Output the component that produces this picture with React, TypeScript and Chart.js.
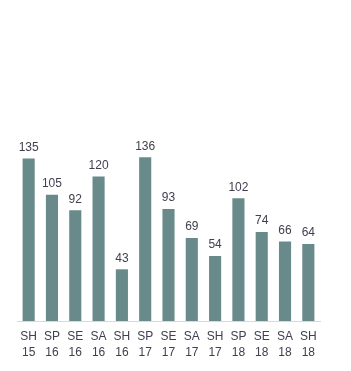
import React, { useEffect, useRef } from "react";
import { Chart, registerables } from "chart.js";

Chart.register(...registerables);

const seasons = ["SH", "SP", "SE", "SA", "SH", "SP", "SE", "SA", "SH", "SP", "SE", "SA", "SH"];
const years = ["15", "16", "16", "16", "16", "17", "17", "17", "17", "18", "18", "18", "18"];
const values = [135, 105, 92, 120, 43, 136, 93, 69, 54, 102, 74, 66, 64];

const TEXT = "#404050";
const FONT = "'Liberation Sans', Arial, sans-serif";

const valueLabels = {
  id: "valueLabels",
  afterDatasetsDraw(chart: any) {
    const ctx = chart.ctx;
    const meta = chart.getDatasetMeta(0);
    ctx.save();
    ctx.font = `12px ${FONT}`;
    ctx.fillStyle = TEXT;
    ctx.textAlign = "center";
    ctx.textBaseline = "bottom";
    meta.data.forEach((bar: any, i: number) => {
      ctx.fillText(String(values[i]), bar.x, bar.y - 5);
    });
    ctx.restore();
  },
};

export default function App() {
  const ref = useRef<HTMLCanvasElement>(null);
  useEffect(() => {
    if (!ref.current) return;
    const chart = new Chart(ref.current, {
      type: "bar",
      data: {
        labels: seasons.map((s, i) => [s, years[i]]),
        datasets: [
          {
            data: values,
            backgroundColor: "#698a8a",
            barPercentage: 0.52,
            categoryPercentage: 1,
          },
        ],
      },
      options: {
        animation: false,
        responsive: false,
        layout: { padding: { left: 9, right: 23, top: 0, bottom: 2 } },
        plugins: { legend: { display: false }, tooltip: { enabled: false } },
        scales: {
          y: { display: false, min: 0, max: 260 },
          x: {
            grid: { display: false },
            border: { display: true, color: "#d9d9d9" },
            ticks: {
              color: TEXT,
              font: { size: 12, family: FONT, lineHeight: 1.33 },
              maxRotation: 0,
              autoSkip: false,
              padding: 0,
            },
          },
        },
      },
      plugins: [valueLabels],
    });
    return () => chart.destroy();
  }, []);
  return <canvas ref={ref} width={335} height={355} style={{ display: "block" }} />;
}
